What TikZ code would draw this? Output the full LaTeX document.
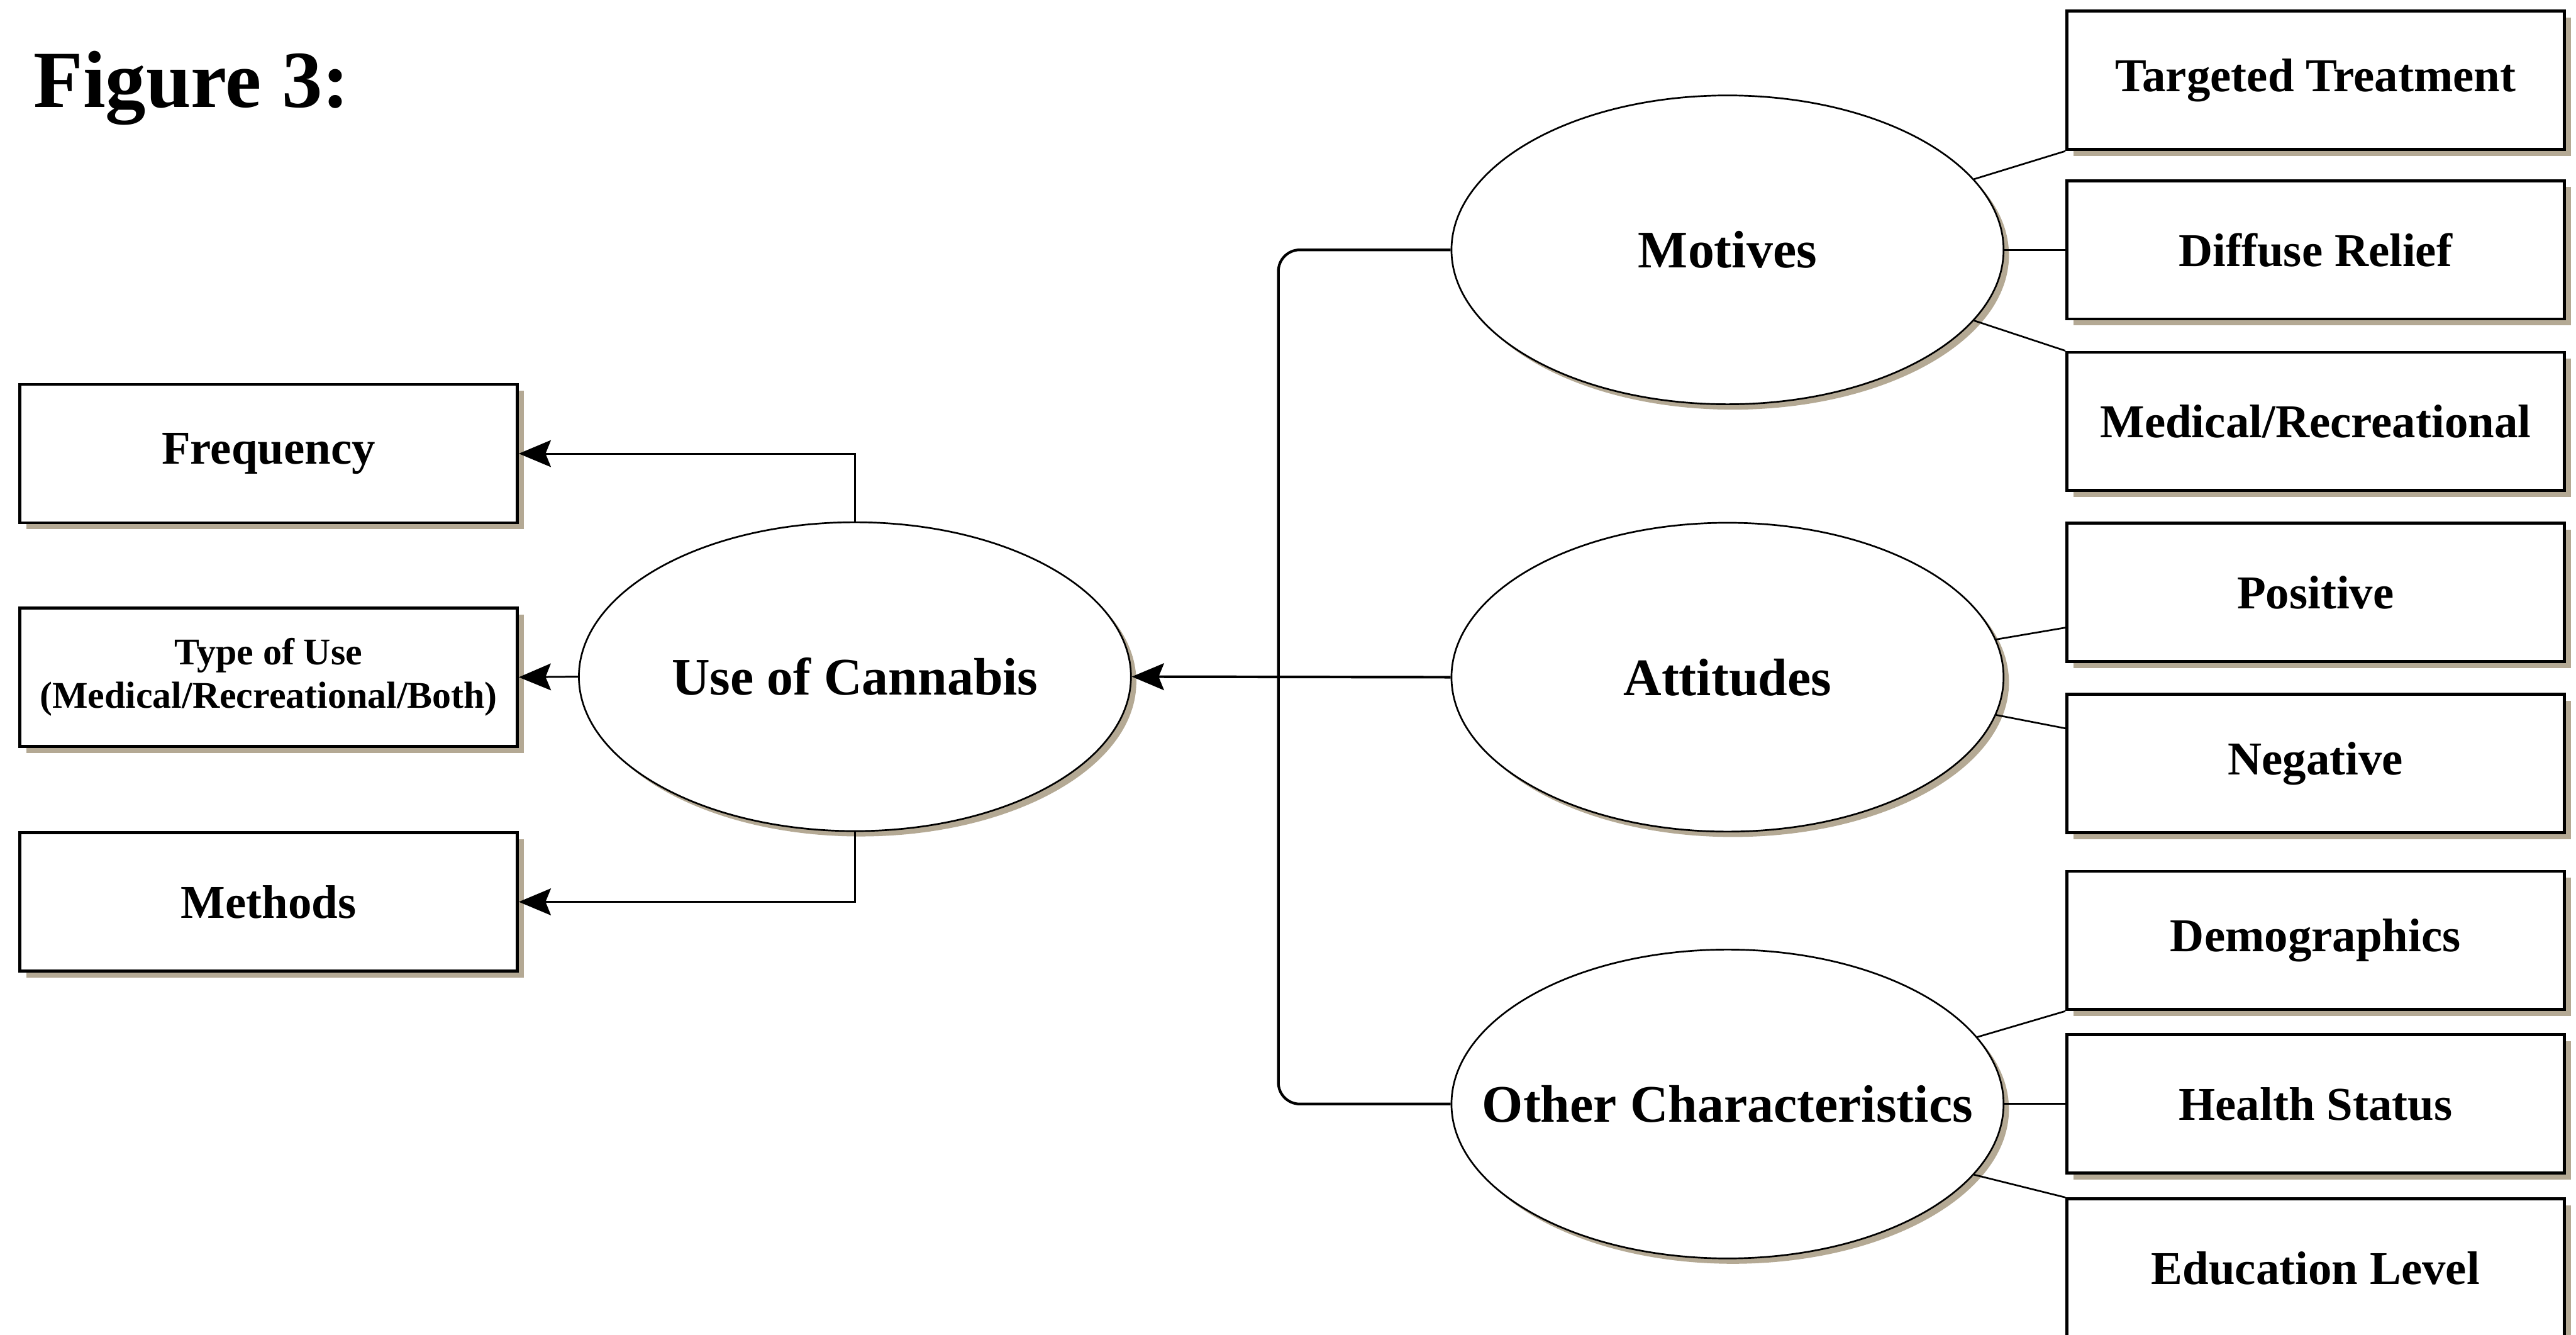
\documentclass[tikz,border=0pt]{standalone}
\usepackage{fontspec}
\setmainfont{Liberation Serif}
\usetikzlibrary{shapes.geometric,shadows,arrows.meta}
\definecolor{shadowtan}{RGB}{180,169,148}

\begin{document}
\begin{tikzpicture}[every node/.style={font=\bfseries},
	box/.style={draw, line width=1.6pt, fill=white, minimum width=9.28cm, minimum height=2.58cm, inner sep=0pt, font=\fontsize{25}{30}\selectfont\bfseries, drop shadow={shadow xshift=0.12cm, shadow yshift=-0.12cm, fill=shadowtan, opacity=1}},
	oval/.style={ellipse, draw, line width=0.9pt, fill=white, minimum width=10.3cm, minimum height=5.76cm, inner sep=0pt, drop shadow={shadow xshift=0.1cm, shadow yshift=-0.1cm, fill=shadowtan, opacity=1}},
	ovaltext/.style={font=\fontsize{28}{34}\selectfont\bfseries, inner sep=0pt},
	link/.style={line width=0.9pt},
	tip/.style={-{Stealth[length=6mm, width=5mm, inset=1mm]}}]
	\useasboundingbox (0,0) rectangle (48.06,-24.89);
	\node[anchor=base west, inner sep=0pt, font=\fontsize{43}{50}\selectfont\bfseries] (title) at (0.62,-2.0) {Figure 3:};
	\node[box] (freq) at (5.01,-8.46) {Frequency};
	\node[box, align=center, font=\fontsize{20}{23}\selectfont\bfseries] (type) at (5.01,-12.63) {Type of Use\\(Medical/Recreational/Both)};
	\node[box] (meth) at (5.01,-16.82) {Methods};
	\node[oval, label={[ovaltext]center:Use of Cannabis}] (uoc) at (15.95,-12.62) {};
	\node[oval, label={[ovaltext]center:Motives}] (mot) at (32.23,-4.66) {};
	\node[oval, label={[ovaltext]center:Attitudes}] (att) at (32.23,-12.63) {};
	\node[oval, label={[ovaltext]center:Other Characteristics}] (oth) at (32.23,-20.59) {};
	\node[box] (tt) at (43.2,-1.50) {Targeted Treatment};
	\node[box] (dr) at (43.2,-4.66) {Diffuse Relief};
	\node[box] (mr) at (43.2,-7.86) {Medical/Recreational};
	\node[box] (pos) at (43.2,-11.05) {Positive};
	\node[box] (neg) at (43.2,-14.24) {Negative};
	\node[box] (dem) at (43.2,-17.54) {Demographics};
	\node[box] (hs) at (43.2,-20.59) {Health Status};
	\node[box] (edu) at (43.2,-23.65) {Education Level};
	\coordinate (jn) at (23.85,-12.63);
	\draw[tip, line width=1pt] (uoc.north) |- (freq.east);
	\draw[tip, line width=1pt] (uoc.west) -- (type.east);
	\draw[tip, line width=1pt] (uoc.south) |- (meth.east);
	\draw[line width=1.4pt, rounded corners=0.4cm] (mot.west) -- (jn |- mot.west) -- (jn |- oth.west) -- (oth.west);
	\draw[tip, line width=1.4pt] (att.west) -- (uoc.east);
	\draw[link] (mot.16) -- (tt.south west);
	\draw[link] (mot.east) -- (dr.west);
	\draw[link] (mot.-16) -- (mr.north west);
	\draw[link] (att.8.4) -- (pos.188);
	\draw[link] (att.-8.8) -- (neg.172);
	\draw[link] (oth.15.5) -- (dem.south west);
	\draw[link] (oth.east) -- (hs.west);
	\draw[link] (oth.-16) -- (edu.north west);
\end{tikzpicture}
\end{document}
